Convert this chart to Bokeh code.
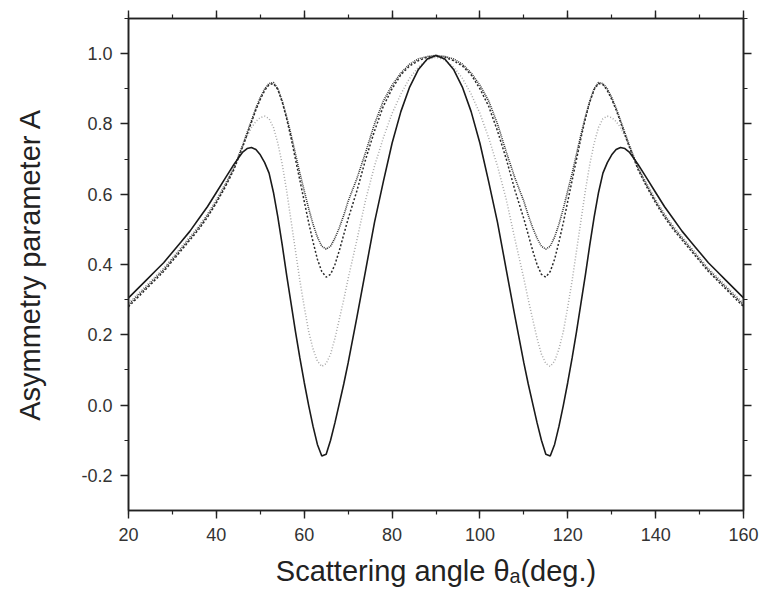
from bokeh.plotting import figure
from bokeh.models import (Range1d, LinearAxis, SingleIntervalTicker, NumeralTickFormatter,
                          CustomLabelingPolicy)
from bokeh.embed import file_html
from bokeh.resources import INLINE

# Scattering angle (deg.)
angle = [20, 22, 24, 26, 28, 30, 32, 34, 36, 38, 40, 42, 44,
         46, 47, 48, 49, 50, 51, 52, 53, 54, 55, 56, 57, 58, 59, 60,
         61, 62, 63, 64, 65, 66, 67, 68, 69, 70,
         72, 74, 76, 78, 80, 82, 84, 86, 88,
         90,
         92, 94, 96, 98, 100, 102, 104, 106, 108,
         110, 111, 112, 113, 114, 115, 116, 117, 118, 119, 120, 121, 122,
         123, 124, 125, 126, 127, 128, 129, 130, 131, 132, 133, 134,
         136, 138, 140, 142, 144, 146, 148, 150, 152, 154, 156, 158, 160]

# solid curve
asym_solid = [0.305, 0.33, 0.355, 0.38, 0.405, 0.435, 0.465, 0.495, 0.53, 0.565, 0.605, 0.645, 0.685,
              0.72, 0.73, 0.733, 0.727, 0.712, 0.69, 0.66, 0.605, 0.535, 0.455, 0.37, 0.29, 0.21, 0.135, 0.065,
              0.0, -0.06, -0.112, -0.145, -0.14, -0.1, -0.05, 0.005, 0.06, 0.12,
              0.25, 0.385, 0.52, 0.635, 0.745, 0.835, 0.905, 0.955, 0.985,
              0.995,
              0.985, 0.955, 0.905, 0.835, 0.745, 0.635, 0.52, 0.385, 0.25,
              0.12, 0.06, 0.005, -0.05, -0.1, -0.14, -0.145, -0.112, -0.06, 0.0, 0.065, 0.135, 0.21,
              0.29, 0.37, 0.455, 0.535, 0.605, 0.66, 0.69, 0.712, 0.727, 0.733, 0.73, 0.72,
              0.685, 0.645, 0.605, 0.565, 0.53, 0.495, 0.465, 0.435, 0.405, 0.38, 0.355, 0.33, 0.305]

# light grey dotted curve
asym_grey = [0.29, 0.315, 0.34, 0.365, 0.39, 0.42, 0.45, 0.48, 0.51, 0.545, 0.585, 0.63, 0.675,
             0.735, 0.765, 0.79, 0.807, 0.818, 0.822, 0.815, 0.79, 0.745, 0.685, 0.61, 0.525, 0.44, 0.355, 0.28,
             0.21, 0.16, 0.125, 0.11, 0.118, 0.145, 0.19, 0.245, 0.30, 0.36,
             0.47, 0.585, 0.68, 0.76, 0.83, 0.885, 0.93, 0.962, 0.982,
             0.99,
             0.982, 0.962, 0.93, 0.885, 0.83, 0.76, 0.68, 0.585, 0.47,
             0.36, 0.30, 0.245, 0.19, 0.145, 0.118, 0.11, 0.125, 0.16, 0.21, 0.28, 0.355, 0.44,
             0.525, 0.61, 0.685, 0.745, 0.79, 0.815, 0.822, 0.818, 0.807, 0.79, 0.765, 0.735,
             0.675, 0.63, 0.585, 0.545, 0.51, 0.48, 0.45, 0.42, 0.39, 0.365, 0.34, 0.315, 0.29]

# dark dashed curve
asym_dash = [0.28, 0.305, 0.33, 0.355, 0.38, 0.41, 0.44, 0.47, 0.50, 0.535, 0.575, 0.62, 0.67,
             0.735, 0.77, 0.805, 0.84, 0.87, 0.895, 0.912, 0.915, 0.898, 0.862, 0.815, 0.76, 0.70, 0.64, 0.58,
             0.52, 0.465, 0.415, 0.38, 0.364, 0.372, 0.40, 0.44, 0.485, 0.53,
             0.61, 0.70, 0.78, 0.85, 0.90, 0.94, 0.965, 0.98, 0.99,
             0.993,
             0.99, 0.98, 0.965, 0.94, 0.90, 0.85, 0.78, 0.70, 0.61,
             0.53, 0.485, 0.44, 0.40, 0.372, 0.364, 0.38, 0.415, 0.465, 0.52, 0.58, 0.64, 0.70,
             0.76, 0.815, 0.862, 0.898, 0.915, 0.912, 0.895, 0.87, 0.84, 0.805, 0.77, 0.735,
             0.67, 0.62, 0.575, 0.535, 0.50, 0.47, 0.44, 0.41, 0.38, 0.355, 0.33, 0.305, 0.28]

# dark dotted curve
asym_dot = [0.285, 0.31, 0.335, 0.36, 0.385, 0.415, 0.445, 0.475, 0.505, 0.54, 0.58, 0.625, 0.675,
            0.74, 0.775, 0.81, 0.845, 0.875, 0.90, 0.915, 0.918, 0.90, 0.865, 0.82, 0.77, 0.715, 0.66, 0.61,
            0.56, 0.515, 0.478, 0.452, 0.444, 0.452, 0.475, 0.505, 0.54, 0.58,
            0.645, 0.72, 0.80, 0.865, 0.91, 0.945, 0.97, 0.985, 0.992,
            0.995,
            0.992, 0.985, 0.97, 0.945, 0.91, 0.865, 0.80, 0.72, 0.645,
            0.58, 0.54, 0.505, 0.475, 0.452, 0.444, 0.452, 0.478, 0.515, 0.56, 0.61, 0.66, 0.715,
            0.77, 0.82, 0.865, 0.90, 0.918, 0.915, 0.90, 0.875, 0.845, 0.81, 0.775, 0.74,
            0.675, 0.625, 0.58, 0.54, 0.505, 0.475, 0.445, 0.415, 0.385, 0.36, 0.335, 0.31, 0.285]

FONT = "Liberation Sans"
AX = "#222222"

p = figure(width=762, height=598, output_backend="svg", toolbar_location=None,
           x_range=Range1d(20, 160), y_range=Range1d(-0.3, 1.1),
           min_border_left=128, min_border_right=19, min_border_top=18,
           min_border_bottom=88, x_axis_location=None, y_axis_location=None)
p.xgrid.visible = False
p.ygrid.visible = False
p.outline_line_color = AX
p.outline_line_width = 1.5
p.background_fill_color = "white"
p.border_fill_color = "white"

hide_labels = CustomLabelingPolicy(code="""
for (const i of indices) { indices.unset(i) }
return indices
""")


def style(ax, labels=True):
    ax.axis_line_color = AX
    ax.axis_line_width = 1.6
    ax.major_tick_line_color = AX
    ax.minor_tick_line_color = AX
    ax.major_tick_line_width = 1.4
    ax.minor_tick_line_width = 1.2
    ax.major_tick_in = 0
    ax.major_tick_out = 8
    ax.minor_tick_in = 0
    ax.minor_tick_out = 4
    ax.major_label_text_font = FONT
    ax.major_label_text_color = "#333333"
    ax.axis_label_text_font = FONT
    ax.axis_label_text_font_style = "normal"
    ax.axis_label_text_color = "#222222"
    if labels:
        ax.major_label_text_font_size = "18px"
    else:
        ax.major_label_text_font_size = "1px"
        ax.major_label_policy = hide_labels
        ax.major_label_standoff = 0


xb = LinearAxis(ticker=SingleIntervalTicker(interval=20, num_minor_ticks=2),
                axis_label="Scattering angle θₐ(deg.)")
style(xb)
xb.major_label_standoff = 9
xb.axis_label_standoff = 11
xb.axis_label_text_font_size = "29px"
p.add_layout(xb, "below")

xt = LinearAxis(ticker=SingleIntervalTicker(interval=20, num_minor_ticks=2))
style(xt, labels=False)
p.add_layout(xt, "above")

yl = LinearAxis(ticker=SingleIntervalTicker(interval=0.2, num_minor_ticks=2),
                formatter=NumeralTickFormatter(format="0.0"),
                axis_label="Asymmetry parameter A")
style(yl)
yl.major_label_standoff = 8
yl.axis_label_standoff = 32
yl.axis_label_text_font_size = "29px"
p.add_layout(yl, "left")

yr = LinearAxis(ticker=SingleIntervalTicker(interval=0.2, num_minor_ticks=2))
style(yr, labels=False)
p.add_layout(yr, "right")

p.line(angle, asym_grey, line_color="#a8a8a8", line_width=1.5, line_dash="1 2")
p.line(angle, asym_dash, line_color="#2a2a2a", line_width=1.5, line_dash="2 2")
p.line(angle, asym_dot, line_color="#333333", line_width=1.6, line_dash="1 1")
p.line(angle, asym_solid, line_color="#1a1a1a", line_width=1.6)

open("out.html", "w").write(file_html(p, INLINE))
